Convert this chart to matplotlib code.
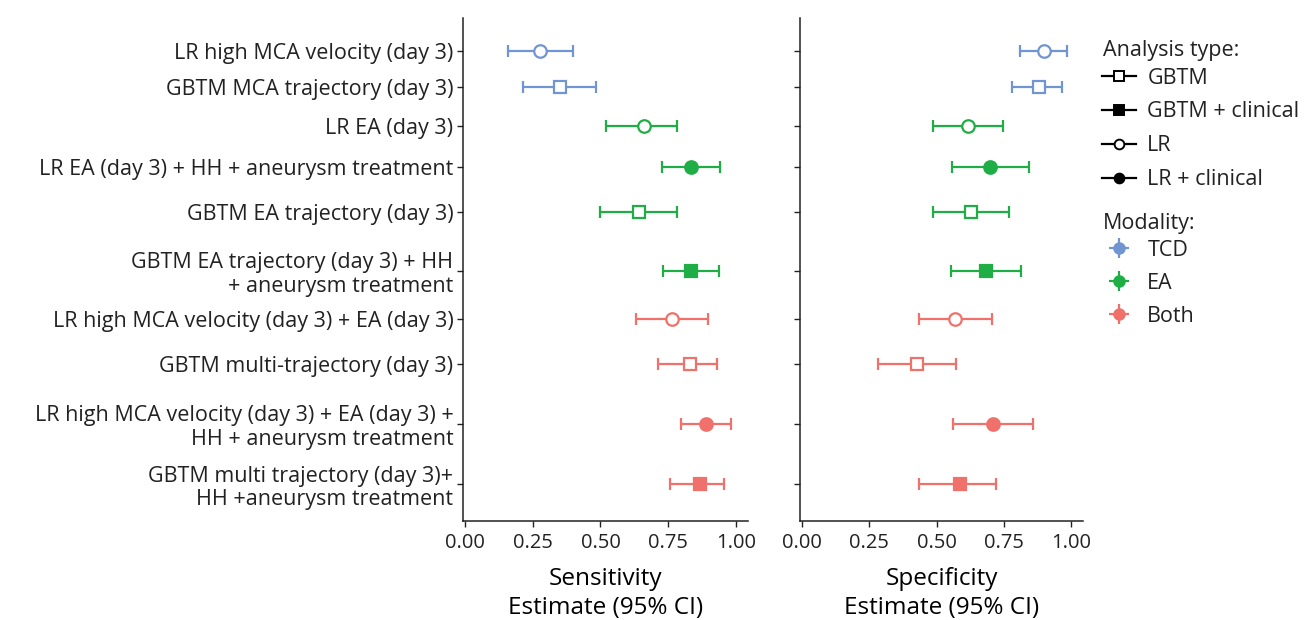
import matplotlib.pyplot as plt
from matplotlib.lines import Line2D

plt.rcParams['font.family'] = ['Open Sans', 'DejaVu Sans']
plt.rcParams['font.size'] = 15
plt.rcParams['text.color'] = '#222222'
plt.rcParams['xtick.color'] = '#222222'
plt.rcParams['ytick.color'] = '#222222'

labels = [
    "LR high MCA velocity (day 3)",
    "GBTM MCA trajectory (day 3)",
    "LR EA (day 3)",
    "LR EA (day 3) + HH + aneurysm treatment",
    "GBTM EA trajectory (day 3)",
    "GBTM EA trajectory (day 3) + HH\n+ aneurysm treatment",
    "LR high MCA velocity (day 3) + EA (day 3)",
    "GBTM multi-trajectory (day 3)",
    "LR high MCA velocity (day 3) + EA (day 3) +\nHH + aneurysm treatment",
    "GBTM multi trajectory (day 3)+\nHH +aneurysm treatment",
]
modality = ["TCD", "TCD", "EA", "EA", "EA", "EA", "Both", "Both", "Both", "Both"]
analysis = ["LR", "GBTM", "LR", "LR + clinical", "GBTM", "GBTM + clinical",
            "LR", "GBTM", "LR + clinical", "GBTM + clinical"]

sens_est = [0.277, 0.350, 0.659, 0.836, 0.642, 0.834, 0.763, 0.830, 0.889, 0.867]
sens_lo = [0.157, 0.213, 0.520, 0.729, 0.500, 0.732, 0.631, 0.713, 0.796, 0.756]
sens_hi = [0.397, 0.483, 0.784, 0.940, 0.782, 0.938, 0.896, 0.929, 0.982, 0.957]

spec_est = [0.899, 0.880, 0.617, 0.700, 0.629, 0.684, 0.568, 0.428, 0.710, 0.587]
spec_lo = [0.812, 0.779, 0.488, 0.557, 0.488, 0.552, 0.433, 0.282, 0.560, 0.434]
spec_hi = [0.986, 0.968, 0.748, 0.845, 0.769, 0.814, 0.708, 0.573, 0.860, 0.722]

# row positions (rows with two-line labels get a bit more room)
row_y = [0, 0.923, 1.931, 2.992, 4.146, 5.64, 6.88, 8.03, 9.57, 11.12]

colors = {"TCD": "#7095d2", "EA": "#1fae45", "Both": "#f0716c"}
markers = {"GBTM": ("s", False), "GBTM + clinical": ("s", True),
           "LR": ("o", False), "LR + clinical": ("o", True)}

fig = plt.figure(figsize=(13.09, 6.2), dpi=100)
ax1 = fig.add_axes([0.3537, 0.1597, 0.2177, 0.8113])
ax2 = fig.add_axes([0.6112, 0.1597, 0.2162, 0.8113])


def panel(ax, est, lo, hi, title):
    for i in range(len(labels)):
        c = colors[modality[i]]
        m, filled = markers[analysis[i]]
        ax.errorbar(est[i], row_y[i], xerr=[[est[i] - lo[i]], [hi[i] - est[i]]],
                    fmt=m, color=c, ecolor=c, elinewidth=1.6, capsize=4.2, capthick=1.6,
                    markersize=9 if m == "o" else 8.5, mew=1.6,
                    mfc=c if filled else "white", mec=c)
    ax.set_xlim(-0.008, 1.045)
    ax.set_ylim(12.06, -0.838)
    ax.set_xticks([0, 0.25, 0.5, 0.75, 1.0])
    ax.set_xticklabels(["0.00", "0.25", "0.50", "0.75", "1.00"])
    ax.set_yticks(row_y)
    ax.spines[["top", "right"]].set_visible(False)
    for s in ["left", "bottom"]:
        ax.spines[s].set_linewidth(1.1)
        ax.spines[s].set_color("#222222")
    ax.tick_params(length=4, width=1.0, labelsize=14.5, pad=3)
    ax.tick_params(axis="x", pad=5)
    ax.set_xlabel(title + "\nEstimate (95% CI)", fontsize=17.5, labelpad=10, linespacing=1.25)


panel(ax1, sens_est, sens_lo, sens_hi, "Sensitivity")
panel(ax2, spec_est, spec_lo, spec_hi, "Specificity")
ax1.set_yticklabels(labels, fontsize=15.5, linespacing=1.15)
ax2.set_yticklabels([])

# legends (titles drawn separately to control the gap under them)
type_names = ["GBTM", "GBTM + clinical", "LR", "LR + clinical"]
type_handles = []
for name in type_names:
    m, filled = markers[name]
    type_handles.append(Line2D([], [], color="black", lw=1.6, marker=m, markersize=7,
                               mew=1.4, mfc="black" if filled else "white", mec="black"))
fig.text(0.8426, 0.919, "Analysis type:", fontsize=15.5, va="center", ha="left")
fig.legend(type_handles, type_names, loc="upper left", bbox_to_anchor=(0.8419, 0.891),
           frameon=False, fontsize=15.5, handlelength=1.6,
           handletextpad=0.5, labelspacing=0.6, borderaxespad=0, borderpad=0)

mod_names = ["TCD", "EA", "Both"]
mod_handles = []
for name in mod_names:
    mod_handles.append((Line2D([], [], color=colors[name], lw=0, marker="o", markersize=8),
                        Line2D([], [], color=colors[name], lw=0, marker="+", markersize=14, mew=1.6)))
fig.text(0.8426, 0.639, "Modality:", fontsize=15.5, va="center", ha="left")
fig.legend(mod_handles, mod_names, loc="upper left", bbox_to_anchor=(0.8419, 0.613),
           frameon=False, fontsize=15.5, handlelength=1.6,
           handletextpad=0.5, labelspacing=0.55, borderaxespad=0, borderpad=0)

fig.savefig("out.png", dpi=100)
